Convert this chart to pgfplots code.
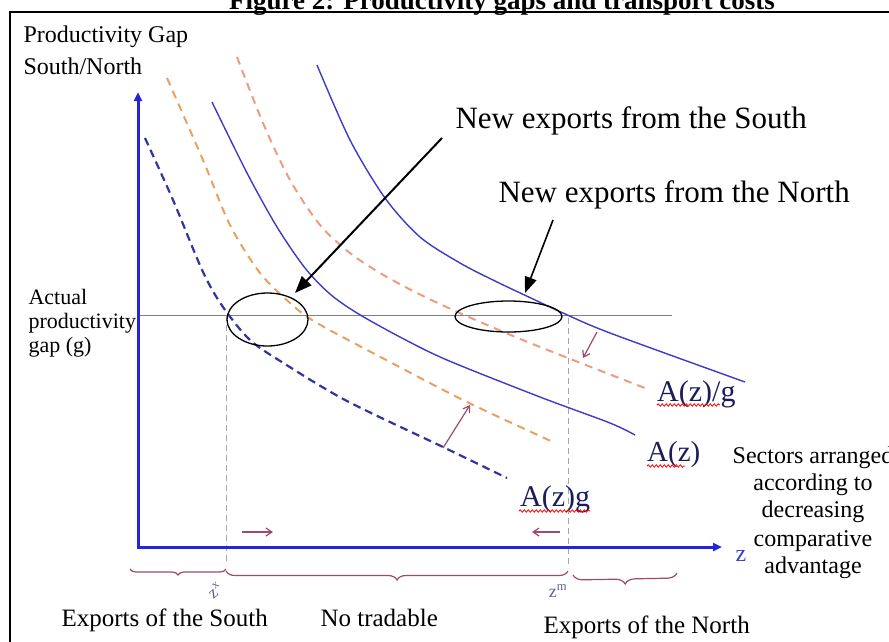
\documentclass[border=0pt]{standalone}
\usepackage{pgfplots}
\pgfplotsset{compat=1.18}
\usepackage{fontspec}
\setmainfont{Liberation Serif}
\usetikzlibrary{arrows.meta,decorations.pathmorphing,decorations.pathreplacing}
\definecolor{axblue}{HTML}{2424DC}
\definecolor{solblue}{HTML}{3C3CC4}
\definecolor{dashblue}{HTML}{34349E}
\definecolor{orlow}{HTML}{EAA060}
\definecolor{orup}{HTML}{EE9C80}
\definecolor{maroon}{HTML}{9E4A6E}
\definecolor{lblue}{HTML}{1C1C5C}
\newcommand{\fsz}[1]{\fontsize{#1}{#1}\selectfont}

% curves, pixel coordinates (y measured from the top)
\pgfplotstableread{
x y
145 138
173 200
203 272
223 307
250 340
285 364
347 401
443 447
507 478
}\Azg
\pgfplotstableread{
x y
167 78
203 160
230 225
260 273
290 303
317 323
390 362
467 402
553 442
}\Alow
\pgfplotstableread{
x y
212 102
247 173
277 227
305 268
330 294
357 313
400 337
447 360
540 397
610 423
635 435
}\Az
\pgfplotstableread{
x y
237 57
263 123
290 180
320 225
350 253
380 273
415 292
453 310
513 336
573 360
650 390
}\Aup
\pgfplotstableread{
x y
317 65
350 140
385 198
420 237
460 263
495 281
533 299
563 313
610 333
745 382
}\Azog

\begin{document}
\begin{tikzpicture}
\begin{axis}[
  width=889pt, height=641pt, scale only axis,
  xmin=0, xmax=889, ymin=0, ymax=641, y dir=reverse,
  hide axis, clip=false,
]
  % page area
  \path (axis cs:0,0) rectangle (axis cs:889,641);
  % frame
  \draw[black, line width=2pt, overlay] (axis cs:10,700) -- (axis cs:10,12) -- (axis cs:900,12);
  % title
  \node[overlay, anchor=base, font=\bfseries\fsz{27}] at (axis cs:502,9)
    {Figure 2: Productivity gaps and transport costs};

  % actual gap line and dashed guides
  \addplot[gray, line width=1pt] coordinates {(138,315) (672,315)};
  \addplot[gray!70, line width=1pt, dash pattern=on 6pt off 4pt]
    coordinates {(226,315) (226,562)};
  \addplot[gray!70, line width=1pt, dash pattern=on 6pt off 4pt]
    coordinates {(568,318) (568,568)};

  % curves
  \addplot[dashblue, line width=2.2pt, dash pattern=on 8pt off 5pt, smooth] table {\Azg};
  \addplot[orlow, line width=2pt, dash pattern=on 8pt off 6pt, smooth] table {\Alow};
  \addplot[solblue, line width=1.4pt, smooth] table {\Az};
  \addplot[orup, line width=2pt, dash pattern=on 8pt off 6pt, smooth] table {\Aup};
  \addplot[solblue, line width=1.4pt, smooth] table {\Azog};

  % ellipses
  \draw[black, line width=1.3pt] (axis cs:267.5,319.5) ellipse [x radius=40.5pt, y radius=26.5pt];
  \draw[black, line width=1.3pt] (axis cs:508.5,316.5) ellipse [x radius=53.5pt, y radius=15.5pt];

  % annotation arrows
  \addplot[black, line width=2pt, -{Triangle[length=17pt,width=13pt]}]
    coordinates {(442,138) (295,293)};
  \addplot[black, line width=1.6pt, -{Triangle[length=16pt,width=12pt]}]
    coordinates {(553,220) (525,293)};
  \addplot[maroon, line width=1.2pt, -{Straight Barb[length=6pt,width=8pt]}]
    coordinates {(443,448) (470,405)};
  \addplot[maroon, line width=1.2pt, -{Straight Barb[length=6pt,width=8pt]}]
    coordinates {(597,332) (583,358)};
  \addplot[maroon, line width=1.2pt, -{Straight Barb[length=6pt,width=8pt]}]
    coordinates {(242,532) (273,532)};
  \addplot[maroon, line width=1.2pt, -{Straight Barb[length=6pt,width=8pt]}]
    coordinates {(560,532) (532,532)};

  % axes
  \addplot[axblue, line width=3pt, line join=miter,
    {Triangle[length=9pt,width=8pt]}-{Triangle[length=9pt,width=8pt]}]
    coordinates {(138,92) (138,547) (722,547)};

  % braces
  \draw[maroon, line width=1.2pt, decorate, decoration={brace, mirror, amplitude=6pt}]
    (axis cs:130,569) -- (axis cs:226,569);
  \draw[maroon, line width=1.2pt, decorate, decoration={brace, mirror, amplitude=9pt}]
    (axis cs:226,571) -- (axis cs:568,571);
  \draw[maroon, line width=1.2pt, decorate, decoration={brace, mirror, amplitude=10pt}]
    (axis cs:573,575) -- (axis cs:677,573);

  % texts
  \node[anchor=base west, font=\fsz{24}] at (axis cs:20,42) {Productivity Gap};
  \node[anchor=base west, font=\fsz{24}] at (axis cs:20,74) {South/North};
  \node[anchor=base west, font=\fsz{22}] at (axis cs:25,304) {Actual};
  \node[anchor=base west, font=\fsz{22}] at (axis cs:25,328) {productivity};
  \node[anchor=base west, font=\fsz{22}] at (axis cs:25,352) {gap (g)};
  \node[anchor=base west, font=\fsz{31}] at (axis cs:452,128) {New exports from the South};
  \node[anchor=base west, font=\fsz{31}] at (axis cs:495,202) {New exports from the North};

  \node[anchor=base west, font=\fsz{30}, text=lblue, inner sep=0pt] at (axis cs:657,401) {A(z)/g};
  \node[anchor=base west, font=\fsz{29}, text=lblue, inner sep=0pt] at (axis cs:647,461) {A(z)};
  \node[anchor=base west, font=\fsz{30}, text=lblue, inner sep=0pt] at (axis cs:520,506) {A(z)g};
  \draw[red, line width=0.8pt, decorate, decoration={snake, amplitude=1.2pt, segment length=4pt}]
    (axis cs:657,405) -- (axis cs:720,405);
  \draw[red, line width=0.8pt, decorate, decoration={snake, amplitude=1.2pt, segment length=4pt}]
    (axis cs:647,466) -- (axis cs:685,466);
  \draw[red, line width=0.8pt, decorate, decoration={snake, amplitude=1.2pt, segment length=4pt}]
    (axis cs:519,511) -- (axis cs:590,511);

  \node[overlay, anchor=base, font=\fsz{24}] at (axis cs:813,463) {Sectors arranged};
  \node[anchor=base, font=\fsz{24}] at (axis cs:813,490) {according to};
  \node[anchor=base, font=\fsz{24}] at (axis cs:813,517) {decreasing};
  \node[anchor=base, font=\fsz{24}] at (axis cs:813,546) {comparative};
  \node[anchor=base, font=\fsz{24}] at (axis cs:813,573) {advantage};

  \node[anchor=center, font=\fsz{24}, text=solblue] at (axis cs:741,556) {z};
  \node[anchor=center, font=\fsz{17}, text=lblue!70, rotate=40, inner sep=0pt] at (axis cs:215,590) {z\textsuperscript{x}};
  \node[anchor=center, font=\fsz{18}, text=lblue!70, inner sep=0pt] at (axis cs:558,591) {z\textsuperscript{m}};

  \node[overlay, anchor=base west, font=\fsz{25}] at (axis cs:58,626) {Exports of the South};
  \node[overlay, anchor=base west, font=\fsz{25}] at (axis cs:317,626) {No tradable};
  \node[overlay, anchor=base west, font=\fsz{25}] at (axis cs:540,633) {Exports of the North};
\end{axis}
\end{tikzpicture}
\end{document}
